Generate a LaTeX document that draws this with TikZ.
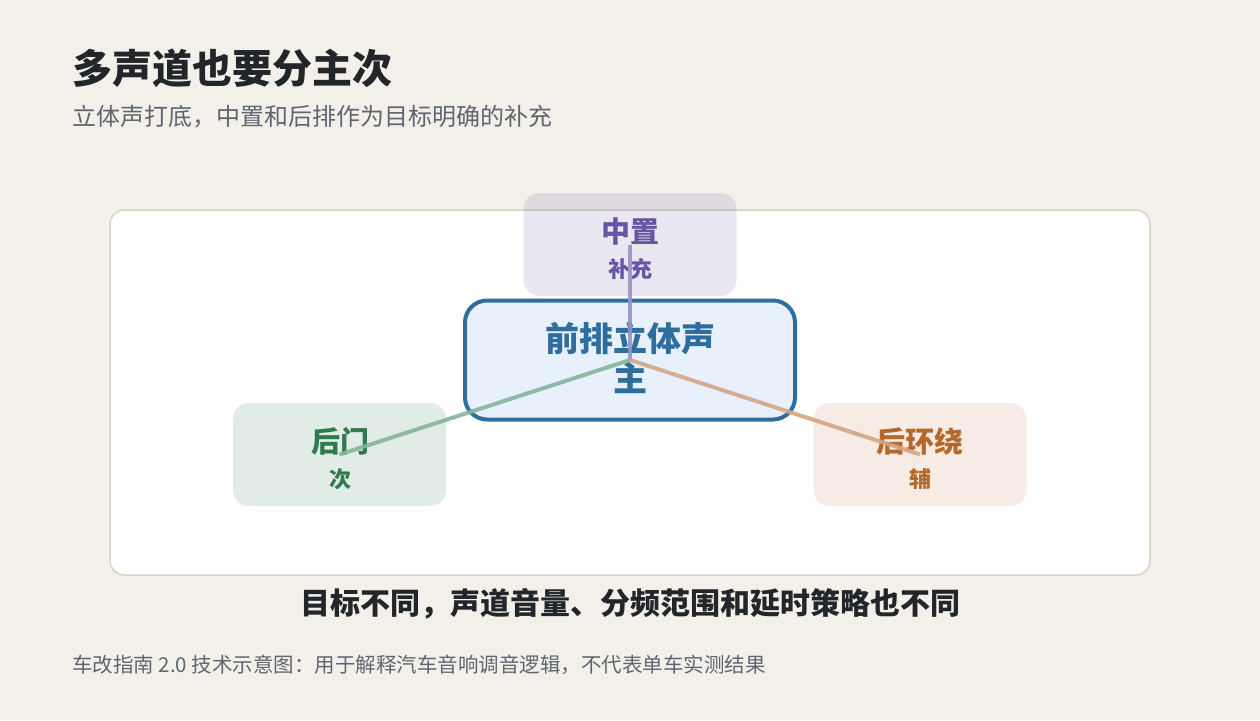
\documentclass[tikz,border=0pt]{standalone}
\usepackage{fontspec}
\setmainfont{Noto Sans CJK SC}
\usepackage{xcolor}
\usetikzlibrary{positioning}

\definecolor{pagebg}{HTML}{F3F0EA}
\definecolor{ink}{HTML}{22262B}
\definecolor{greytext}{HTML}{5F6670}
\definecolor{panelline}{HTML}{D9D3C3}
\definecolor{mainblue}{HTML}{2E6E9E}
\definecolor{mainfill}{HTML}{E8F1FB}
\definecolor{centreviolet}{HTML}{6A55A5}
\definecolor{reargreen}{HTML}{2F7A4F}
\definecolor{surroundbrown}{HTML}{B5682A}
\definecolor{violetline}{HTML}{9D8FCB}
\definecolor{greenline}{HTML}{86B49C}
\definecolor{brownline}{HTML}{D3A684}

\newcommand{\fs}[1]{\fontsize{#1pt}{#1pt}\selectfont}

\tikzset{
  chanbox/.style={rounded corners=16pt, minimum width=213pt, minimum height=103pt, inner sep=0pt},
  channame/.style={font=\fs{29}\bfseries, inner sep=0pt},
  chanrole/.style={font=\fs{22}\bfseries, inner sep=0pt},
  link/.style={line width=4pt, opacity=0.9}
}

\begin{document}
\begin{tikzpicture}[x=1pt,y=-1pt]
  % page
  \fill[pagebg] (0,0) rectangle (1260,720);
  \useasboundingbox (0,0) rectangle (1260,720);

  % heading
  \node[anchor=west, inner sep=0pt, text=ink, font=\fs{40}\bfseries] (title) at (72,68) {多声道也要分主次};
  \node[anchor=west, inner sep=0pt, text=greytext, font=\fs{24}] (subtitle) at (72,117) {立体声打底，中置和后排作为目标明确的补充};

  % panel
  \draw[panelline, line width=1.5pt, fill=white, rounded corners=14pt] (110,210) rectangle (1150,575);

  % channel boxes
  \node[chanbox, fill=centreviolet, fill opacity=0.14] (centre) at (630,244.5) {};
  \node[channame, text=centreviolet] (centrename) at (630,231) {中置};
  \node[chanrole, text=centreviolet] (centrerole) at (630,269) {补充};

  \node[chanbox, fill=reargreen, fill opacity=0.14] (door) at (339.5,454.5) {};
  \node[channame, text=reargreen] (doorname) at (340,441) {后门};
  \node[chanrole, text=reargreen] (doorrole) at (340,479) {次};

  \node[chanbox, fill=surroundbrown, fill opacity=0.12] (surround) at (920,454.5) {};
  \node[channame, text=surroundbrown] (surroundname) at (920,441) {后环绕};
  \node[chanrole, text=surroundbrown] (surroundrole) at (920,479) {辅};

  % front stereo
  \node[draw=mainblue, line width=4pt, fill=mainfill, rounded corners=22pt,
        minimum width=330pt, minimum height=119pt, inner sep=0pt] (front) at (630,360) {};
  \node[text=mainblue, font=\fs{34}\bfseries, align=center, inner sep=0pt] (fronttext) at (630,358)
    {前排立体声\\[6pt]主};

  % links
  \draw[link, violetline] (front.center) -- (centre.center);
  \draw[link, greenline] (front.center) -- (door.center);
  \draw[link, brownline] (front.center) -- (surround.center);

  % footer
  \node[text=ink, font=\fs{30}\bfseries, inner sep=0pt] (caption) at (630,604) {目标不同，声道音量、分频范围和延时策略也不同};
  \node[anchor=west, inner sep=0pt, text=greytext, font=\fs{20.5}] (note) at (72,665) {车改指南 2.0 技术示意图：用于解释汽车音响调音逻辑，不代表单车实测结果};
\end{tikzpicture}
\end{document}
